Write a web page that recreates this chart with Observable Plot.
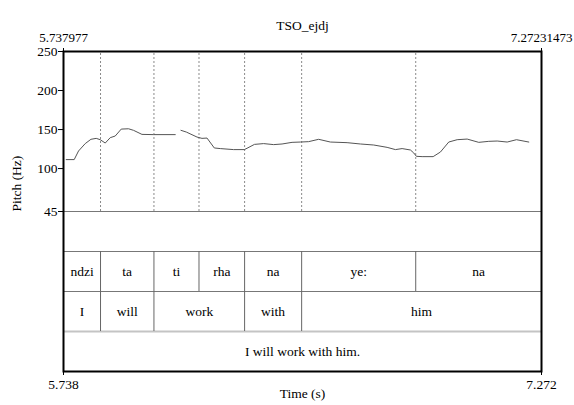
<!DOCTYPE html>
<html>
<head>
<meta charset="utf-8">
<script src="https://cdn.jsdelivr.net/npm/d3@7"></script>
<script src="https://cdn.jsdelivr.net/npm/@observablehq/plot@0.6"></script>
<style>
  html, body { margin: 0; padding: 0; background: #fff; }
  #chart svg { display: block; }
  #chart svg, #chart svg text, #chart svg g { font-family: "Liberation Serif", "Times New Roman", serif !important; }
</style>
</head>
<body>
<div id="chart"></div>
<script>
// ---- data ----
const TITLE = "TSO_ejdj";
const tStart = 5.737977;
const tEnd = 7.27231473;
const topTickLabels = ["5.737977", "7.27231473"];
const bottomTickLabels = ["5.738", "7.272"];
const yTicks = [45, 100, 150, 200, 250];
const pitchMin = 45;
const pitchMax = 250;

// pitch track (null = unvoiced gap)
const pitchTime = [5.7467, 5.7723, 5.7862, 5.8077, 5.8260, 5.8430, 5.8559, 5.8719, 5.8880, 5.9040,
  5.9233, 5.9467, 5.9628, 5.9898, 6.0270, 6.0967, 6.1060,
  6.1150, 6.1321, 6.1664, 6.1825, 6.1986, 6.2220, 6.2413, 6.2840, 6.3184, 6.3270,
  6.3510, 6.3804, 6.4125, 6.4395, 6.4716, 6.4983, 6.5249, 6.5570, 6.5946, 6.6483,
  6.6910, 6.7337, 6.7767, 6.8034, 6.8249, 6.8516, 6.8622, 6.8708, 6.8891, 6.9245,
  6.9479, 6.9746, 7.0016, 7.0337, 7.0709, 7.1031, 7.1300, 7.1622, 7.1920, 7.2315];
const pitchHz = [111.5, 111.5, 122.5, 132, 137.5, 138.7, 137, 132.7, 139.6, 141.7,
  150.6, 151, 149, 143.8, 143.5, 143.5, null,
  149, 146.8, 140.4, 138.7, 139.1, 126.4, 125.6, 124.3, 124.3, 126,
  131, 132, 130.7, 131.5, 133.6, 134, 134.5, 137.5, 134, 133.2,
  131.5, 130.2, 127.2, 124.3, 125.6, 123.8, 120, 115.7, 115.3, 115.3,
  121.2, 134, 137, 137.8, 133.6, 134.9, 135.3, 134, 137, 134];

// tiers
const syllableBounds = [5.8568, 6.0283, 6.1729, 6.3193, 6.5024, 6.8686];
const syllables = ["ndzi", "ta", "ti", "rha", "na", "ye:", "na"];
const wordBounds = [5.8568, 6.0283, 6.3193, 6.5024];
const words = ["I", "will", "work", "with", "him"];
const sentenceBounds = [];
const sentence = ["I will work with him."];

// ---- layout helpers (in y-scale units) ----
const bandH = (pitchMax - pitchMin) / 4;          // each tier band = 1/4 of the pitch panel
const bandTop = k => pitchMin - k * bandH;         // k = 0: empty band, 1..3: tiers
const yBottom = bandTop(4);

function intervals(bounds, labels, tier) {
  const edges = [tStart, ...bounds, tEnd];
  return labels.map((label, i) => ({
    label, x: (edges[i] + edges[i + 1]) / 2,
    y: bandTop(tier + 1) - bandH / 2
  }));
}
const tiers = [
  {bounds: syllableBounds, labels: syllables},
  {bounds: wordBounds, labels: words},
  {bounds: sentenceBounds, labels: sentence}
];
const tierText = tiers.flatMap((t, k) => intervals(t.bounds, t.labels, k));
const tierRules = tiers.flatMap((t, k) => t.bounds.map(b => ({x: b, y1: bandTop(k + 1), y2: bandTop(k + 2)})));
const pitchIdx = pitchTime.map((_, i) => i);

const topFmt = new Map([[tStart, topTickLabels[0]], [tEnd, topTickLabels[1]]]);
const botFmt = new Map([[tStart, bottomTickLabels[0]], [tEnd, bottomTickLabels[1]]]);

const FS = 13.5;
const FONT = "Liberation Serif";
const chart = Plot.plot({
  width: 574,
  height: 405,
  marginLeft: 63,
  marginRight: 33,
  marginTop: 51,
  marginBottom: 34,
  style: {fontFamily: FONT, fontSize: FS + "px", color: "#000", background: "#fff"},
  x: {domain: [tStart, tEnd]},
  y: {domain: [yBottom, pitchMax]},
  marks: [
    // dotted boundary lines through pitch panel
    Plot.ruleX(syllableBounds, {y1: pitchMin, y2: pitchMax, stroke: "#8a8a8a", strokeWidth: 1, strokeDasharray: "2,2"}),
    // horizontal tier separators
    Plot.ruleY([bandTop(0), bandTop(1), bandTop(2)], {stroke: "#777", strokeWidth: 1}),
    Plot.ruleY([bandTop(3)], {stroke: "#c4c4c4", strokeWidth: 2.2}),
    // tier interval boundaries
    Plot.ruleX(tierRules, {x: "x", y1: "y1", y2: "y2", stroke: "#666", strokeWidth: 1}),
    // tier labels
    Plot.text(tierText, {x: "x", y: "y", text: "label", fontSize: FS, fontFamily: FONT, fill: "#000"}),
    // pitch track
    Plot.line(pitchIdx, {x: i => pitchTime[i], y: i => pitchHz[i], stroke: "#555", strokeWidth: 1}),
    // frame
    Plot.frame({stroke: "#000", strokeWidth: 2}),
    // axes
    Plot.axisY(yTicks, {anchor: "left", tickSize: 5, tickPadding: 1, label: null, fontSize: FS, fontFamily: FONT, stroke: "#000"}),
    Plot.axisX([tStart, tEnd], {anchor: "top", tickSize: 4, tickPadding: 6, label: null, fontSize: 13, fontFamily: FONT, tickFormat: d => topFmt.get(d)}),
    Plot.axisX([tStart, tEnd], {anchor: "bottom", tickSize: 4, tickPadding: 4, label: null, fontSize: FS, fontFamily: FONT, tickFormat: d => botFmt.get(d)}),
    // titles
    Plot.text([TITLE], {text: d => d, frameAnchor: "top", dy: -31, fontSize: FS, fontFamily: FONT}),
    Plot.text(["Pitch (Hz)"], {text: d => d, frameAnchor: "left", dx: -47, rotate: -90, fontSize: FS, fontFamily: FONT}),
    Plot.text(["Time (s)"], {text: d => d, frameAnchor: "bottom", dy: 26, fontSize: FS, fontFamily: FONT})
  ]
});
document.getElementById("chart").append(chart);
</script>
</body>
</html>
